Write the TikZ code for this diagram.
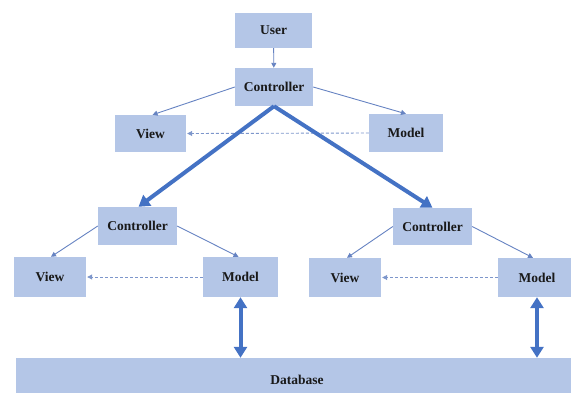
\documentclass[tikz,border=0pt]{standalone}
\usepackage{fontspec}
\setmainfont{Liberation Serif}
\usetikzlibrary{arrows.meta}
\definecolor{boxfill}{HTML}{B4C6E7}
\definecolor{thickblue}{HTML}{4472C4}
\definecolor{thinblue}{HTML}{6683C2}
\tikzset{
  box/.style={fill=boxfill, draw=none, inner sep=0pt, font=\fontsize{13.5}{15}\selectfont\bfseries, text=black!90},
  thinarrow/.style={draw=thinblue, line width=0.9pt, -{Triangle[length=5pt,width=5pt]}},
  dasharrow/.style={draw=thinblue!85, line width=0.9pt, dash pattern=on 3pt off 2pt, -{Triangle[length=5pt,width=5pt]}},
  thickarrow/.style={draw=thickblue, line width=4pt, -{Triangle[length=11pt,width=13pt]}},
  dblarrow/.style={draw=thickblue, line width=4pt, {Triangle[length=11pt,width=13pt]}-{Triangle[length=11pt,width=13pt]}}
}
\begin{document}
\begin{tikzpicture}[x=1pt,y=-1pt]
\useasboundingbox (0,0) rectangle (571,392);
\clip (0,0) rectangle (571,392);
% top level
\node[box, minimum width=77pt, minimum height=35pt] (user) at (273.5,30.5) {User};
\node[box, minimum width=78pt, minimum height=38pt] (tc) at (274,87) {Controller};
\node[box, minimum width=71pt, minimum height=37pt] (tv) at (150.5,133.5) {View};
\node[box, minimum width=74pt, minimum height=38pt] (tm) at (406,133) {Model};
% left
\node[box, minimum width=79pt, minimum height=38pt] (lc) at (137.5,226) {Controller};
\node[box, minimum width=72pt, minimum height=40pt] (lv) at (50,277) {View};
\node[box, minimum width=75pt, minimum height=40pt] (lm) at (240.5,277) {Model};
% right
\node[box, minimum width=79pt, minimum height=37pt] (rc) at (432.5,226.5) {Controller};
\node[box, minimum width=72pt, minimum height=39pt] (rv) at (345,277.5) {View};
\node[box, minimum width=78pt, minimum height=39pt] (rm) at (537,277.5) {Model};
% database
\node[box, minimum width=562pt, minimum height=44pt] (db) at (297,380) {Database};
% connectors
\draw[thinarrow] (user) -- (tc);
\draw[thinarrow] (tc.west) -- ([xshift=2pt]tv.north);
\draw[thinarrow] (tc.east) -- (tm.north);
\draw[dasharrow] (tm.west) -- ([xshift=1pt]tv.east);
\draw[thickarrow] (tc.south) -- ([xshift=1pt]lc.north);
\draw[thickarrow] (tc.south) -- (rc.north);
\draw[thinarrow] (lc.west) -- ([xshift=1pt]lv.north);
\draw[thinarrow] (lc.east) -- ([xshift=-2pt]lm.north);
\draw[dasharrow] (lm.west) -- ([xshift=1pt]lv.east);
\draw[thinarrow] (rc.west) -- ([xshift=2pt]rv.north);
\draw[thinarrow] (rc.east) -- ([xshift=-4pt]rm.north);
\draw[dasharrow] (rm.west) -- ([xshift=1pt]rv.east);
\draw[dblarrow] (lm.south) -- (lm.south |- db.north);
\draw[dblarrow] (rm.south) -- (rm.south |- db.north);
\end{tikzpicture}
\end{document}
